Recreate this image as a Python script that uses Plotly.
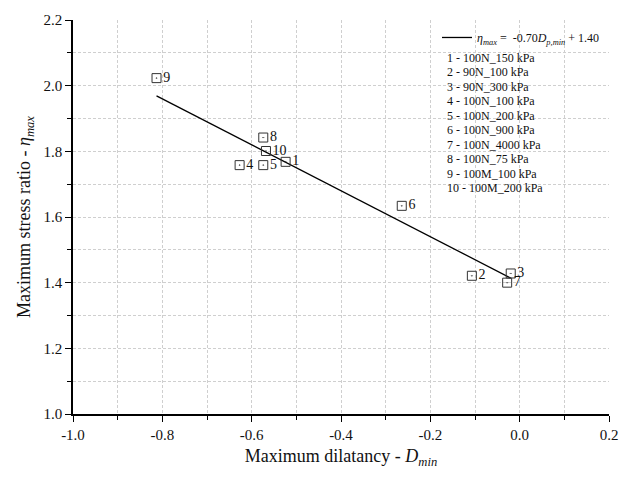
import plotly.graph_objects as go

# ---- data ----
point_labels = ["1", "2", "3", "4", "5", "6", "7", "8", "9", "10"]
d_min = [-0.524, -0.107, -0.020, -0.627, -0.574, -0.264, -0.028, -0.574, -0.813, -0.568]
eta_max = [1.768, 1.421, 1.428, 1.758, 1.758, 1.634, 1.400, 1.842, 2.023, 1.801]
legend_entries = [
    "1 - 100N_150 kPa",
    "2 - 90N_100 kPa",
    "3 - 90N_300 kPa",
    "4 - 100N_100 kPa",
    "5 - 100N_200 kPa",
    "6 - 100N_900 kPa",
    "7 - 100N_4000 kPa",
    "8 - 100N_75 kPa",
    "9 - 100M_100 kPa",
    "10 - 100M_200 kPa",
]
fit_slope = -0.70
fit_intercept = 1.40
x_ticks = [-1.0, -0.8, -0.6, -0.4, -0.2, 0.0, 0.2]
y_ticks = [1.0, 1.2, 1.4, 1.6, 1.8, 2.0, 2.2]
x_grid = [-0.9, -0.8, -0.7, -0.6, -0.5, -0.4, -0.3, -0.2, -0.1, 0.0, 0.1, 0.2]
y_grid = [1.1, 1.2, 1.3, 1.4, 1.5, 1.6, 1.7, 1.8, 1.9, 2.0, 2.1]

FONT = "Liberation Serif"

fit_x = [min(d_min), max(d_min)]
fit_y = [fit_slope * v + fit_intercept for v in fit_x]

fig = go.Figure()
fig.add_trace(go.Scatter(
    x=fit_x, y=fit_y, mode="lines",
    line=dict(color="black", width=1.3),
    name="<i>η</i><sub><i>max</i></sub> =  -0.70<i>D</i><sub><i>p,min</i></sub> + 1.40",
    showlegend=True,
))
fig.add_trace(go.Scatter(
    x=d_min, y=eta_max, mode="markers+text",
    text=point_labels, textposition="middle right",
    textfont=dict(family=FONT, size=14, color="#111"),
    marker=dict(symbol="square-open-dot", size=9, color="#333",
                line=dict(width=1, color="#333")),
    showlegend=False,
))

# legend text entries (no symbols)
L, R, T, B = 73, 23, 15, 66
W, H = 632 - L - R, 480 - T - B
for k, txt in enumerate(legend_entries):
    yc = 53.3 + 14.7 * k
    fig.add_annotation(
        xref="paper", yref="paper",
        x=(445 - L) / W, y=(480 - B - yc) / H,
        xanchor="left", yanchor="middle",
        text=txt, showarrow=False,
        font=dict(family=FONT, size=12, color="#111"),
    )

axis_common = dict(
    showline=True, linecolor="black", linewidth=1.5, mirror=False,
    ticks="outside", ticklen=6, tickwidth=1.3, tickcolor="black",
    showgrid=False, zeroline=False,
    tickfont=dict(family=FONT, size=15, color="#111"),
)
minor_common = dict(ticks="outside", ticklen=4, tickwidth=1.1, tickcolor="black",
                    showgrid=True, gridcolor="#cfcfcf", griddash="3px,2px", gridwidth=1)

fig.update_xaxes(
    range=[-1.0, 0.2], tickvals=x_ticks, ticktext=[f"{v:.1f}" for v in x_ticks],
    minor=dict(tickvals=x_grid, **minor_common),
    title=dict(text="Maximum dilatancy - <i>D</i><sub><i>min</i></sub>",
               font=dict(family=FONT, size=18, color="#111"), standoff=8),
    **axis_common,
)
fig.update_yaxes(
    range=[1.0, 2.2], tickvals=y_ticks, ticktext=[f"{v:.1f}" for v in y_ticks],
    minor=dict(tickvals=y_grid, **minor_common),
    title=dict(text="Maximum stress ratio - <i>η</i><sub><i>max</i></sub>",
               font=dict(family=FONT, size=18, color="#111"), standoff=8),
    **axis_common,
)

fig.update_layout(
    width=632, height=480,
    margin=dict(l=L, r=R, t=T, b=B),
    plot_bgcolor="white", paper_bgcolor="white",
    font=dict(family=FONT, color="#111"),
    legend=dict(
        x=(437 - L) / W, y=(480 - B - 32.7) / H,
        xanchor="left", yanchor="middle",
        bgcolor="rgba(255,255,255,0)", borderwidth=0,
        font=dict(family=FONT, size=12, color="#111"),
        itemwidth=30,
    ),
)

fig.write_html("out.html")
